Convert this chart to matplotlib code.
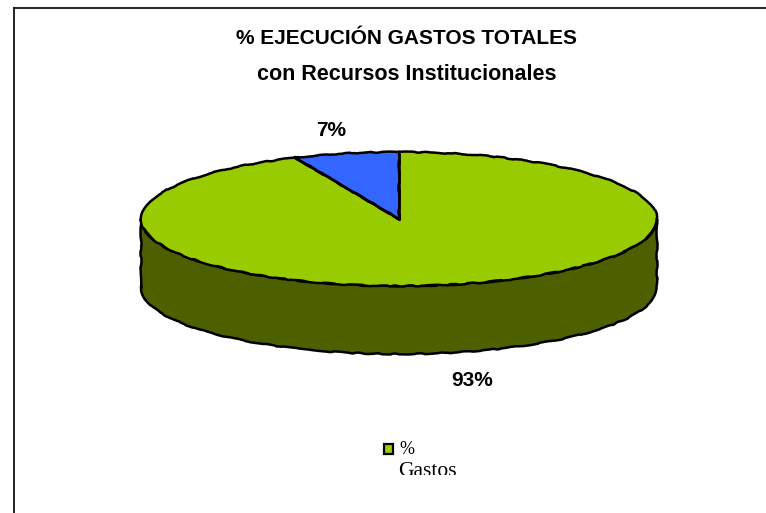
import matplotlib
matplotlib.use('Agg')
import matplotlib.pyplot as plt
from matplotlib.patches import Rectangle, Polygon
import numpy as np

# slices (3d perspective makes the small one look a bit under 7)
labels = ['Gastos', 'Resto']
values = [93.4, 6.6]
colors = ['#99CC00', '#3366FF']
side_color = '#4D6000'
title_lines = ['% EJECUCIÓN GASTOS TOTALES', 'con Recursos Institucionales']
legend_text = ['%', 'Gastos']

W, H = 766, 513
fig = plt.figure(figsize=(W / 100, H / 100), dpi=100)
ax = fig.add_axes([0, 0, 1, 1])

# pixel size of the flattened pie
cx, cy, rx, ry, depth = 399, 219, 258, 67, 68

# side of the cylinder first, then the top on it
t = np.linspace(np.pi, 2 * np.pi, 200)
ex = np.cos(t)
ey = np.sin(t)
side = np.column_stack([np.r_[ex, ex[::-1]], np.r_[ey - depth / ry, ey[::-1]]])
body = Polygon(side, closed=True, facecolor=side_color, edgecolor='black', linewidth=1.8, zorder=1)
body.set_sketch_params(scale=0.5, length=70, randomness=16)
ax.add_patch(body)

wedges, _ = ax.pie(values, colors=colors, startangle=90, counterclock=False, radius=1,
                   wedgeprops={'edgecolor': 'black', 'linewidth': 1.8})
for w in wedges:
    w.set_zorder(2)
    # the original outline is wobbly
    w.set_sketch_params(scale=0.5, length=70, randomness=16)

# the two cuts of the small slice stay straight
for a in (wedges[1].theta1, wedges[1].theta2):
    ax.plot([0, np.cos(np.radians(a))], [0, np.sin(np.radians(a))], color='black', linewidth=1.8, zorder=3)

# pie forces equal aspect, flatten it back to an ellipse
ax.set_aspect('auto')
ax.set_xlim(-cx / rx, (W - cx) / rx)
ax.set_ylim(-(H - cy) / ry, cy / ry)
ax.axis('off')

fig.add_artist(plt.Line2D([13.5 / W, 13.5 / W], [0, 1 - 8 / H], color='black', linewidth=1.2))
fig.add_artist(plt.Line2D([13.5 / W, 1], [1 - 8 / H, 1 - 8 / H], color='black', linewidth=1.2))

fig.text(406 / W, 1 - 38 / H, title_lines[0], ha='center', va='center', family='Liberation Sans',
         fontweight='bold', fontsize=15)
fig.text(407 / W, 1 - 74 / H, title_lines[1], ha='center', va='center', family='Liberation Sans',
         fontweight='bold', fontsize=15.5)

fig.text(331.5 / W, 1 - 130 / H, f'{round(values[1])}%', ha='center', va='center', family='Liberation Sans',
         fontweight='bold', fontsize=15)
fig.text(472 / W, 1 - 380 / H, f'{round(values[0])}%', ha='center', va='center', family='Liberation Sans',
         fontweight='bold', fontsize=15)

# legend
fig.add_artist(Rectangle((383.5 / W, 1 - 454 / H), 10 / W, 10 / H, transform=fig.transFigure,
                         facecolor=colors[0], edgecolor='black', linewidth=1.6))
fig.text(399 / W, 1 - 449 / H, legend_text[0], ha='left', va='center', family='Liberation Serif', fontsize=13)
g = fig.text(398 / W, 1 - 472 / H, legend_text[1], ha='left', va='center', family='Liberation Serif', fontsize=15.5)
# bottom of the word is cut off in the original
clip = Rectangle((380 / W, 1 - 475 / H), 100 / W, 20 / H, transform=fig.transFigure)
g.set_clip_path(clip)

fig.savefig('out.png', dpi=100)
